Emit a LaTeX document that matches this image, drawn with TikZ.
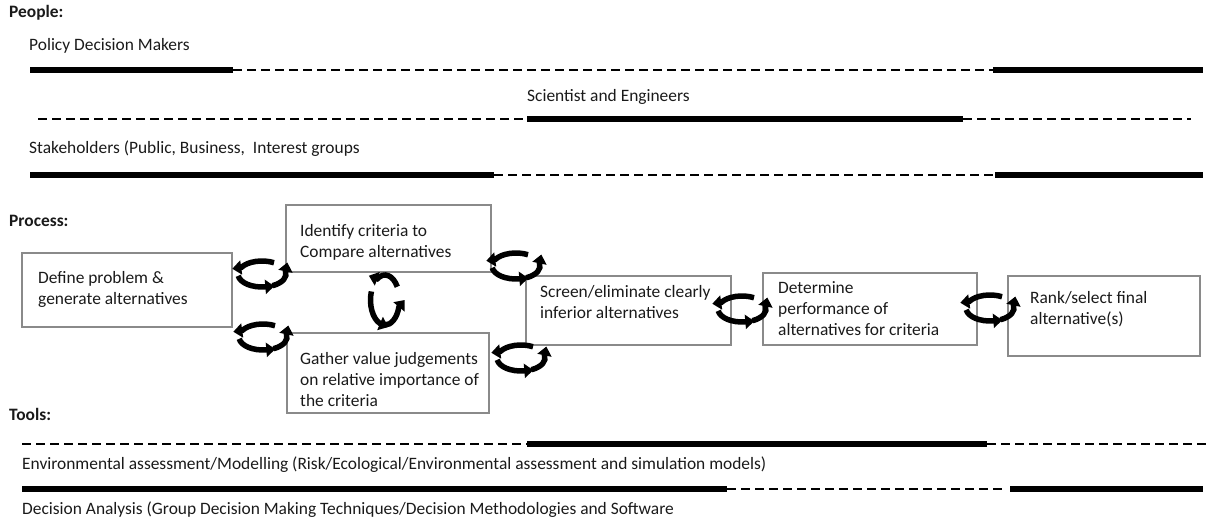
\documentclass[tikz,border=0pt]{standalone}
\usepackage{fontspec}
\setmainfont{Carlito}
\usetikzlibrary{arrows.meta}
\definecolor{txt}{HTML}{1A1A1A}
\definecolor{frame}{HTML}{8A8A8A}
\begin{document}
\begin{tikzpicture}[x=1pt,y=-1pt,
    font=\fontsize{17.4}{21}\selectfont, text=txt,
    heading/.style={anchor=mid west, inner sep=0pt, font=\fontsize{17.4}{21}\selectfont\bfseries},
    caption/.style={anchor=mid west, inner sep=0pt},
    box/.style={draw=frame, line width=1.1pt, fill=white, inner sep=0pt},
    lbl/.style={anchor=north west, inner sep=0pt, align=left},
    solidbar/.style={line width=6pt, black},
    dashbar/.style={line width=2.6pt, black, dash pattern=on 9pt off 5pt},
    cyc/.style={line width=5.5pt, black, -{Triangle[width=14pt,length=9pt]}},
    % three arcs on an ellipse, running counter-clockwise, each ending in a head
    pics/cycle/.style n args={3}{code={
        \draw[cyc] ({60+#3}:#1pt and #2pt)
          arc[start angle={60+#3}, end angle={150+#3}, x radius=#1pt, y radius=#2pt]
          -- ++({188+#3}:9pt);
        \draw[cyc] ({188+#3}:#1pt and #2pt)
          arc[start angle={188+#3}, end angle={278+#3}, x radius=#1pt, y radius=#2pt]
          -- ++({5+#3}:9pt);
        \draw[cyc] ({296+#3}:#1pt and #2pt)
          arc[start angle={296+#3}, end angle={372+#3}, x radius=#1pt, y radius=#2pt]
          -- ++({78+#3}:9pt);
    }}]
\useasboundingbox (0,0) rectangle (1211,521);

% ---------- People ----------
\node[heading] (people) at (9,15.5) {People:};
\node[caption] (policy) at (29,48.5) {Policy Decision Makers};
\draw[solidbar] (30,70) -- (233,70);
\draw[dashbar]  (233,70) -- (993,70);
\draw[solidbar] (993,70) -- (1203,70);

\node[caption] (sci) at (527,99.5) {Scientist and Engineers};
\draw[dashbar]  (38,119) -- (527,119);
\draw[solidbar] (527,119) -- (963,119);
\draw[dashbar]  (963,119) -- (1191,119);

\node[caption] (stake) at (29,151.5) {Stakeholders (Public, Business,~ Interest groups};
\draw[solidbar] (30,175) -- (494,175);
\draw[dashbar]  (494,175) -- (995,175);
\draw[solidbar] (995,175) -- (1203,175);

% ---------- Process ----------
\node[heading] (process) at (9,224.5) {Process:};

\node[box, minimum width=210pt, minimum height=74pt] (b1) at (127,290) {};
\node[box, minimum width=205pt, minimum height=67pt] (b2) at (388.5,238.5) {};
\node[box, minimum width=202pt, minimum height=80pt] (b3) at (388,373) {};
\node[box, minimum width=205pt, minimum height=69pt] (b4) at (628.5,310.5) {};
\node[box, minimum width=214pt, minimum height=72pt] (b5) at (870,309) {};
\node[box, minimum width=192pt, minimum height=80pt] (b6) at (1104,316) {};

\node[lbl] (t1) at (38,271)   {Define problem \&\\generate alternatives};
\node[lbl] (t2) at (300,224)  {Identify criteria to\\Compare alternatives};
\node[lbl] (t3) at (300,352)  {Gather value judgements\\on relative importance of\\the criteria};
\node[lbl] (t4) at (540,285)  {Screen/eliminate clearly\\inferior alternatives};
\node[lbl] (t5) at (778,281)  {Determine\\performance of\\alternatives for criteria};
\node[lbl] (t6) at (1030,291) {Rank/select final\\alternative(s)};

% feedback cycles between the steps
\pic at (262,274) {cycle={24}{13}{0}};
\pic at (263,337) {cycle={24}{13}{0}};
\pic at (385,300) {cycle={14.5}{25}{-28}};
\pic at (516,266) {cycle={24}{13}{0}};
\pic at (521,358) {cycle={24}{13}{0}};
\pic at (742,309) {cycle={24}{13}{0}};
\pic at (990,308) {cycle={24}{13}{0}};

% ---------- Tools ----------
\node[heading] (tools) at (9,418.5) {Tools:};
\draw[dashbar]  (22,444) -- (527,444);
\draw[solidbar] (527,444) -- (987,444);
\draw[dashbar]  (987,444) -- (1209,444);

\node[caption] (env) at (22,467.5) {Environmental assessment/Modelling (Risk/Ecological/Environmental assessment and simulation models)};
\draw[solidbar] (22,489) -- (727,489);
\draw[dashbar]  (727,489) -- (1005,489);
\draw[solidbar] (1010,489) -- (1203,489);

\node[caption] (da) at (22,512.5) {Decision Analysis (Group Decision Making Techniques/Decision Methodologies and Software};
\end{tikzpicture}
\end{document}
